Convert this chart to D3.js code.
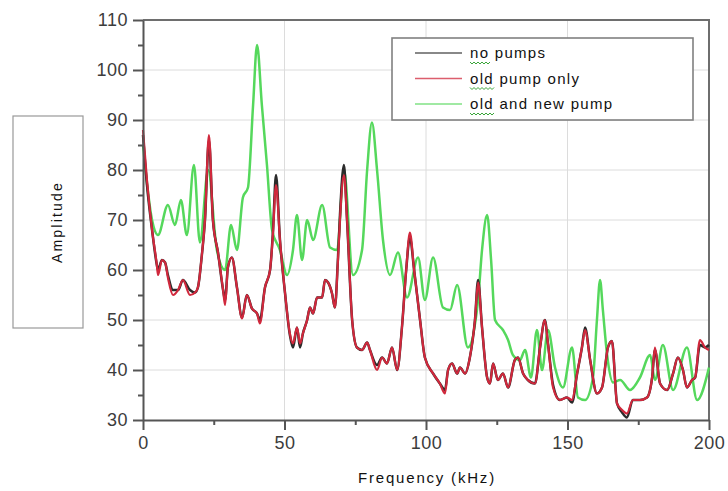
<!DOCTYPE html>
<html>
<head>
<meta charset="utf-8">
<script src="https://cdn.jsdelivr.net/npm/d3@7"></script>
<style>
  body { margin: 0; background: #fff; }
  svg { display: block; font-family: Arial, "Liberation Sans", sans-serif; }
</style>
</head>
<body>
<div id="wrapper"></div>
<script>
// frequencies (kHz) for the two lower curves
const freqs = [0, 1.4, 3.2, 4.9, 5.3, 6.7, 7.8, 8.8, 10.6, 12.4, 14.1, 16.6, 18.4, 19.4, 20.8, 21.9, 23.3, 24.7, 26.5, 28.3,
  29.0, 30.0, 31.4, 33.2, 35.0, 36.7, 38.5, 40.3, 41.3, 43.1, 44.9, 45.9, 47.0, 48.4, 50.2, 51.9, 53.0, 54.4, 55.5, 56.5,
  58.0, 59.0, 60.1, 61.5, 63.3, 64.3, 65.4, 66.8, 67.8, 68.9, 69.6, 71.0, 72.1, 73.9, 75.6, 77.4, 79.2, 80.2, 82.7, 84.5,
  86.2, 88.0, 89.8, 91.5, 93.0, 94.3, 95.8, 97.9, 99.6, 102.5, 104.9, 106.7, 107.8, 109.2, 111.0, 112.0, 113.8, 115.5, 117.3, 118.4,
  119.8, 121.6, 122.6, 123.7, 125.4, 127.2, 129.0, 131.4, 132.5, 134.3, 136.0, 138.5, 140.3, 142.0, 143.1, 144.9, 147.3, 149.8, 151.6, 153.4,
  155.1, 156.2, 158.0, 160.4, 162.2, 164.3, 165.7, 167.5, 169.3, 171.0, 173.1, 175.6, 178.1, 179.9, 180.9, 182.7, 185.2, 187.3, 189.0, 190.8,
  192.2, 194.0, 195.1, 196.8, 198.6, 200];

const noPumps = [87, 77, 68, 61, 60, 62, 61.5, 59, 56, 56, 58, 56, 55.5, 56.5, 63, 70, 86, 70, 63.5, 56,
  54, 60.5, 62.5, 56.5, 50.5, 55, 52.3, 51.3, 50, 56.5, 60, 67.5, 79, 66, 55.3, 47, 44.5, 48.5, 44.5, 47.3,
  50, 52.5, 51.3, 54.5, 54.5, 58, 57.5, 55.3, 52.5, 62.5, 71, 81, 70, 50, 44.5, 44, 45.5, 44, 41, 42.5,
  41.3, 44.5, 40, 48.5, 60, 66.5, 60, 50, 42.5, 39.3, 37.3, 36, 40, 41.3, 39.3, 40.5, 39.3, 42.5, 50, 58,
  48.5, 38.5, 37.3, 41.3, 38, 39.3, 36.5, 42, 42.5, 39.3, 38, 37.3, 44.5, 50, 45.3, 37, 34, 34.5, 33.5, 39.3,
  44.5, 48.5, 42, 35.3, 36.5, 44.5, 45.8, 33.3, 31.5, 30.5, 34, 34, 34.5, 38.5, 44, 37.3, 36, 39.3, 42.5, 40,
  36.5, 38, 38.5, 45, 44.5, 45];

const oldPumpOnly = [88, 78, 68, 61, 59, 62, 61.5, 58.5, 55, 56, 58, 55, 55.5, 56.5, 63, 70, 87, 70, 63.5, 56,
  53, 60.5, 62.5, 56.5, 50.3, 55, 52.3, 51.3, 49.3, 56.5, 60, 67, 77, 66, 55.3, 47.3, 45.3, 48.5, 45.3, 47.3,
  50, 52.5, 51.3, 54.5, 54.5, 58, 57.5, 55.3, 52.5, 62, 70, 79, 70, 50, 44.5, 44, 45.5, 44, 40, 42.5,
  41.3, 44.5, 40, 48.5, 60, 67.5, 60, 50, 42.5, 39.3, 37.3, 35.3, 40, 41.3, 39.3, 40.5, 39.3, 42.5, 50, 57.5,
  48.5, 38.5, 37.3, 41.3, 38, 39.3, 36.5, 42, 42.5, 39.3, 38, 37.3, 44.5, 50, 45.3, 36.5, 34, 34.5, 34, 39.3,
  44.5, 48, 42, 35.3, 36.5, 44.5, 45.8, 33.3, 32, 31.3, 34, 34, 34.5, 38.5, 44.5, 37.3, 36, 39.3, 42.5, 40,
  36.5, 38, 38.5, 46, 44.5, 44];

// frequencies (kHz) for the green curve
const greenFreqs = [0, 3.2, 5.3, 8.8, 11.3, 13.4, 15.5, 18.0, 20.1, 23.0, 26.1, 29.0, 31.1, 33.2, 35.3, 37.1, 38.9, 40.3, 42.0, 43.8,
  45.6, 48.4, 50.9, 53.0, 54.4, 56.2, 58.0, 60.1, 63.3, 66.1, 68.6, 71.0, 74.2, 77.4, 79.2, 80.9, 82.7, 84.8, 87.3, 90.1,
  93.3, 97.2, 99.6, 102.5, 106.0, 108.5, 111.0, 114.8, 118.4, 119.8, 121.6, 123.0, 124.4, 127.2, 129.0, 130.7, 133.2, 135.0, 137.1, 139.2,
  141.0, 143.1, 145.6, 148.4, 151.6, 153.7, 156.2, 159.0, 160.4, 161.5, 162.5, 164.0, 166.1, 168.6, 172.1, 175.6, 179.2, 180.9, 183.7, 187.3,
  192.2, 195.8, 200];

const oldAndNewPump = [85, 70, 67, 73, 69, 74, 67, 81, 65.5, 80, 64, 60, 69, 64, 74.5, 76.5, 93, 105, 93, 81,
  68, 64, 59, 64, 71, 62, 70, 66, 73, 64.5, 64, 80, 59, 64, 80, 89.5, 80, 66, 59, 63.5,
  54.5, 62.5, 54, 62.5, 52.5, 52, 57, 44.5, 54, 64, 71, 62, 50, 48, 46, 43, 42, 44, 38.5, 48,
  40, 48, 40.5, 36.5, 44.5, 34.5, 34, 38.5, 50, 58, 52, 43, 37.5, 38, 36, 38.5, 43, 38, 45, 36,
  44.5, 34, 40.5];

const xTicks = [0, 50, 100, 150, 200];
const yTicks = [30, 40, 50, 60, 70, 80, 90, 100, 110];
const legendLabels = ["no pumps", "old pump only", "old and new pump"];
const colors = ["#2b2b2b", "#d0283c", "#55d85c"];

let dimensions = {
  width: 728,
  height: 491,
  margin: { top: 20, right: 19, bottom: 71, left: 143 }
};
dimensions.boundedWidth = dimensions.width - dimensions.margin.left - dimensions.margin.right;
dimensions.boundedHeight = dimensions.height - dimensions.margin.top - dimensions.margin.bottom;

const wrapper = d3.select("#wrapper")
  .append("svg")
    .attr("width", dimensions.width)
    .attr("height", dimensions.height);

const bounds = wrapper.append("g")
    .attr("transform", `translate(${dimensions.margin.left},${dimensions.margin.top})`);

const xScaler = d3.scaleLinear()
  .domain([0, 200])
  .range([0, dimensions.boundedWidth]);

const yScaler = d3.scaleLinear()
  .domain([30, 110])
  .range([dimensions.boundedHeight, 0]);

// grid
bounds.append("g")
  .selectAll("line")
  .data(yTicks.slice(1, -1))
  .join("line")
    .attr("x1", 0)
    .attr("x2", dimensions.boundedWidth)
    .attr("y1", d => yScaler(d))
    .attr("y2", d => yScaler(d))
    .attr("stroke", "#dcdcdc");

bounds.append("g")
  .selectAll("line")
  .data(xTicks.slice(1, -1))
  .join("line")
    .attr("x1", d => xScaler(d))
    .attr("x2", d => xScaler(d))
    .attr("y1", 0)
    .attr("y2", dimensions.boundedHeight)
    .attr("stroke", "#dcdcdc");

// frame top / right
bounds.append("path")
  .attr("d", `M0,0H${dimensions.boundedWidth}V${dimensions.boundedHeight}`)
  .attr("fill", "none")
  .attr("stroke", "#6e6e6e")
  .attr("stroke-width", 2);

// lines
const lineGenerator = (xs) => d3.line()
  .x((d, i) => xScaler(xs[i]))
  .y(d => yScaler(d))
  .curve(d3.curveMonotoneX);

bounds.append("path")
  .attr("d", lineGenerator(greenFreqs)(oldAndNewPump))
  .attr("fill", "none")
  .attr("stroke", colors[2])
  .attr("stroke-width", 2.5);

bounds.append("path")
  .attr("d", lineGenerator(freqs)(noPumps))
  .attr("fill", "none")
  .attr("stroke", colors[0])
  .attr("stroke-width", 2.5);

bounds.append("path")
  .attr("d", lineGenerator(freqs)(oldPumpOnly))
  .attr("fill", "none")
  .attr("stroke", colors[1])
  .attr("stroke-width", 2.2);

// axes
const styleAxis = g => {
  g.select(".domain").attr("stroke", "#555").attr("stroke-width", 2);
  g.selectAll(".tick line").attr("stroke", "#555").attr("stroke-width", 2);
  g.selectAll(".tick text")
    .attr("fill", "#3c3c3c")
    .style("font-size", "18px")
    .style("letter-spacing", "0.5px");
};

const yMinor = bounds.append("g")
  .call(d3.axisLeft(yScaler).tickValues(d3.range(35, 110, 10)).tickSize(5).tickFormat(""));
yMinor.select(".domain").remove();
yMinor.selectAll(".tick line").attr("stroke", "#555").attr("stroke-width", 2);

const xMinor = bounds.append("g")
  .attr("transform", `translate(0,${dimensions.boundedHeight})`)
  .call(d3.axisBottom(xScaler).tickValues([25, 75, 125, 175]).tickSize(5).tickFormat(""));
xMinor.select(".domain").remove();
xMinor.selectAll(".tick line").attr("stroke", "#555").attr("stroke-width", 2);

bounds.append("g")
  .call(d3.axisLeft(yScaler).tickValues(yTicks).tickSize(10).tickSizeOuter(0).tickPadding(5))
  .call(styleAxis);

bounds.append("g")
  .attr("transform", `translate(0,${dimensions.boundedHeight})`)
  .call(d3.axisBottom(xScaler).tickValues(xTicks).tickSize(10).tickSizeOuter(0).tickPadding(6))
  .call(styleAxis);

// legend
const legend = wrapper.append("g");
legend.append("rect")
  .attr("x", 392)
  .attr("y", 38)
  .attr("width", 301)
  .attr("height", 82)
  .attr("fill", "#fff")
  .attr("stroke", "#808080")
  .attr("stroke-width", 1.6);

const rows = legend.selectAll(".row")
  .data(legendLabels)
  .join("g")
    .attr("class", "row")
    .attr("transform", (d, i) => `translate(0,${53 + i * 25.5})`);

rows.append("line")
  .attr("x1", 415)
  .attr("x2", 462)
  .attr("stroke", (d, i) => colors[i])
  .attr("stroke-opacity", 0.75)
  .attr("stroke-width", 1.6);

rows.append("text")
  .attr("x", 470)
  .attr("y", 5)
  .attr("fill", "#111")
  .style("font-size", "15px")
  .style("letter-spacing", "1.3px")
  .text(d => d);

// spell-check squiggles under first word
rows.each(function() {
  const row = d3.select(this);
  const txt = row.select("text").node();
  const word = txt.textContent.split(" ")[0];
  const w = txt.getSubStringLength(0, word.length);
  let d = `M470,9`;
  for (let x = 470, k = 0; x < 470 + w; x += 2, k++) {
    d += `L${x + 2},${k % 2 ? 9 : 11}`;
  }
  row.append("path")
    .attr("d", d)
    .attr("fill", "none")
    .attr("stroke", "#3aa63a")
    .attr("stroke-width", 1);
});

// axis titles
wrapper.append("rect")
  .attr("x", 13)
  .attr("y", 116)
  .attr("width", 70)
  .attr("height", 212)
  .attr("fill", "none")
  .attr("stroke", "#999")
  .attr("stroke-width", 1.2);

wrapper.append("text")
  .attr("transform", "translate(62,222) rotate(-90)")
  .attr("text-anchor", "middle")
  .attr("fill", "#111")
  .style("font-size", "14px")
  .style("letter-spacing", "2.2px")
  .text("Amplitude");

wrapper.append("text")
  .attr("x", 427)
  .attr("y", 483)
  .attr("text-anchor", "middle")
  .attr("fill", "#111")
  .style("font-size", "15px")
  .style("letter-spacing", "1.8px")
  .text("Frequency (kHz)");
</script>
</body>
</html>
